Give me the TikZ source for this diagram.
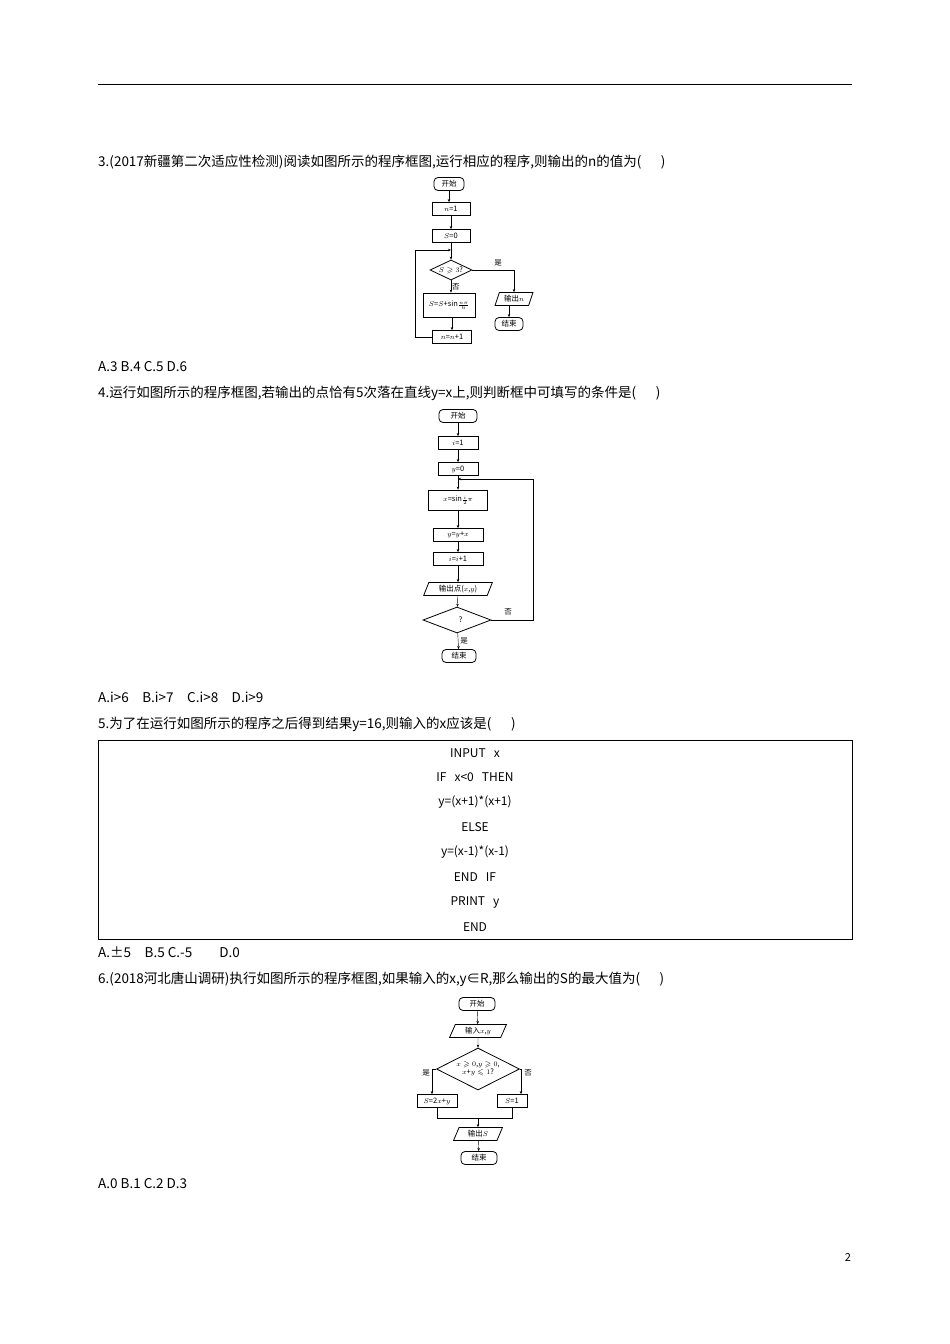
\documentclass[tikz,border=0pt]{standalone}
\usepackage{amssymb}
\usepackage{fontspec}
\setmainfont{Noto Sans CJK SC}
\usetikzlibrary{shapes.geometric,arrows.meta}
\begin{document}
\begin{tikzpicture}[x=1pt,y=-1pt,
  txt/.style={anchor=west,inner sep=0pt,font=\fontsize{13.5}{14}\selectfont},
  pbox/.style={draw,thick,minimum height=13pt,inner sep=1pt,font=\fontsize{7.5}{8}\selectfont},
  term/.style={pbox,rounded corners=4pt,minimum width=30pt},
  io/.style={pbox,trapezium,trapezium left angle=70,trapezium right angle=110,trapezium stretches=true},
  dec/.style={draw,thick,diamond,aspect=2.2,inner sep=0pt,font=\fontsize{7.5}{8}\selectfont},
  lab/.style={font=\fontsize{7.5}{8}\selectfont,inner sep=1pt},
  ar/.style={-{Stealth[length=3pt,width=2.5pt]},thin},
  code/.style={font=\fontsize{12}{13}\selectfont,inner sep=0pt}]
\useasboundingbox (0,0) rectangle (950,1344);
\draw (98,84) -- (852,84);
\node[txt] (t3) at (98,162) {3.(2017新疆第二次适应性检测)阅读如图所示的程序框图,运行相应的程序,则输出的n的值为(\quad\ \ )};
% chart 1
\node[term] (a1) at (449,184) {开始};
\node[pbox,minimum width=38pt] (a2) at (451,209) {$n$=1};
\node[pbox,minimum width=38pt] (a3) at (451,236) {$S$=0};
\node[dec,minimum width=42pt,minimum height=20pt] (a4) at (451,270) {$S\geqslant3$?};
\node[pbox,minimum width=52pt,minimum height=24pt] (a5) at (449,305) {$S$=$S$+sin$\frac{n\pi}{6}$};
\node[pbox,minimum width=39pt] (a6) at (452,337) {$n$=$n$+1};
\node[io,minimum width=38pt] (a7) at (514,299) {输出$n$};
\node[term,minimum width=28pt] (a8) at (509,324) {结束};
\coordinate (j1) at (451,250);
\draw[ar] (a1) -- (a1|-a2.north);
\draw[ar] (a2) -- (a3);
\draw (a3) -- (j1);
\draw[ar] (j1) -- (a4);
\draw[ar] (a4.south) -- (a4.south|-a5.north) node[lab,midway,right] {否};
\draw[ar] (a5.south-|a6) -- (a6);
\draw[ar] (a6.west) -- (415,337) -- (415,250) -- (j1);
\draw[ar] (a4.east) -- (a7.north|-a4.east) -- (a7.north) node[lab,pos=0.05,above=4pt,xshift=-16pt] {是};
\draw[ar] (a7.south-|a8) -- (a8);
\node[txt] (o3) at (98,367) {A.3 B.4 C.5 D.6};
\node[txt] (t4) at (98,393) {4.运行如图所示的程序框图,若输出的点恰有5次落在直线y=x上,则判断框中可填写的条件是(\quad\ \ )};
% chart 2
\node[term,minimum width=38pt] (b1) at (458,416) {开始};
\node[pbox,minimum width=40pt] (b2) at (458,443) {$i$=1};
\node[pbox,minimum width=40pt] (b3) at (458,469) {$y$=0};
\node[pbox,minimum width=59pt,minimum height=20pt] (b4) at (458,500) {$x$=sin$\frac{i}{2}\pi$};
\node[pbox,minimum width=50pt] (b5) at (458,535) {$y$=$y$+$x$};
\node[pbox,minimum width=50pt] (b6) at (458,559) {$i$=$i$+1};
\node[io,minimum width=69pt] (b7) at (458,589) {输出点($x$,$y$)};
\node[dec,minimum width=68pt,minimum height=26pt] (b8) at (457,620) {\quad ?};
\node[term,minimum width=34pt] (b9) at (459,656) {结束};
\coordinate (j2) at (458,479);
\draw[ar] (b1) -- (b2);
\draw[ar] (b2) -- (b3);
\draw (b3) -- (j2);
\draw[ar] (j2) -- (b4);
\draw[ar] (b4) -- (b5);
\draw[ar] (b5) -- (b6);
\draw[ar] (b6) -- (b7);
\draw[ar] (b7) -- (b8);
\draw[ar] (b8) -- (b9) node[lab,midway,right=1pt] {是};
\draw[ar] (b8.east) -- (533,620) -- (533,479) -- (j2);
\node[lab] at (508,612) {否};
\node[txt] (o4) at (98,697) {A.i>6\quad B.i>7\quad C.i>8\quad D.i>9};
\node[txt] (t5) at (98,724) {5.为了在运行如图所示的程序之后得到结果y=16,则输入的x应该是(\quad\ \ )};
\draw (98,740) rectangle (852,939);
\node[code] at (475,753) {INPUT\ \ \ x};
\node[code] at (475,777) {IF\ \ \ x<0\ \ \ THEN};
\node[code] at (475,802) {y=(x+1)*(x+1)};
\node[code] at (475,827) {ELSE};
\node[code] at (475,852) {y=(x-1)*(x-1)};
\node[code] at (475,877) {END\ \ \ IF};
\node[code] at (475,902) {PRINT\ \ \ y};
\node[code] at (475,927) {END};
\node[txt] (o5) at (98,952) {A.±5\quad B.5 C.-5\qquad D.0};
\node[txt] (t6) at (98,979) {6.(2018河北唐山调研)执行如图所示的程序框图,如果输入的x,y∈R,那么输出的S的最大值为(\quad\ \ )};
% chart 3
\node[term,minimum width=36pt] (c1) at (477,1004) {开始};
\node[io,minimum width=57pt] (c2) at (478,1031) {输入$x$,$y$};
\node[dec,minimum width=83pt,minimum height=42pt,align=center] (c3) at (478,1069) {$x\geqslant0$,$y\geqslant0$,\\$x$+$y\leqslant1$?};
\node[pbox,minimum width=40pt] (c4) at (437,1101) {$S$=2$x$+$y$};
\node[pbox,minimum width=30pt] (c5) at (512,1101) {$S$=1};
\node[io,minimum width=49pt] (c6) at (478,1134) {输出$S$};
\node[term,minimum width=36pt] (c7) at (479,1158) {结束};
\coordinate (j3) at (478,1118);
\draw[ar] (c1) -- (c2);
\draw[ar] (c2) -- (c3);
\draw[ar] (c3.west) -- (432,1069) -- (c4.north-|432,0);
\draw[ar] (c3.east) -- (521,1069) -- (c5.north-|521,0);
\node[lab] at (426,1073) {是};
\node[lab] at (528,1073) {否};
\draw (c4.south) -- (c4.south|-j3) -- (c5.south|-j3) -- (c5.south);
\draw[ar] (j3) -- (c6);
\draw[ar] (c6) -- (c7);
\node[txt] (o6) at (98,1184) {A.0 B.1 C.2 D.3};
\node[font=\fontsize{11}{12}\selectfont] (pg) at (848,1257) {2};
\end{tikzpicture}
\end{document}
